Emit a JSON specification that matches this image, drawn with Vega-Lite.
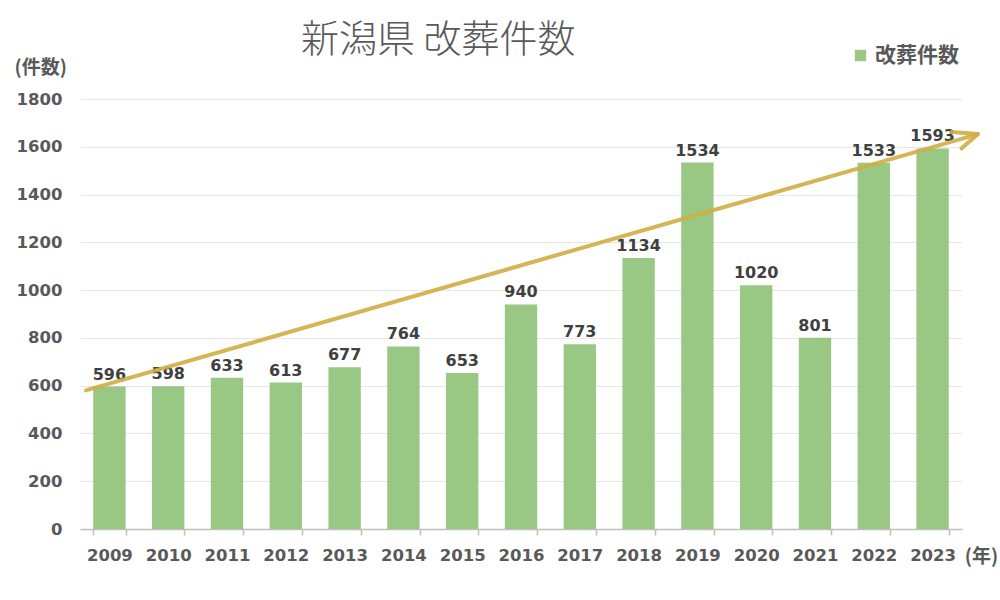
{
  "$schema": "https://vega.github.io/schema/vega-lite/v6.json",
  "autosize": "none",
  "width": 882,
  "height": 430,
  "padding": {"left": 80, "top": 99, "right": 38, "bottom": 71},
  "background": "#ffffff",
  "config": {
    "font": "Noto Sans CJK JP",
    "view": {"stroke": null}
  },
  "title": {
    "text": "新潟県 改葬件数",
    "anchor": "start",
    "dx": 287,
    "dy": 15,
    "offset": 0,
    "fontSize": 38,
    "fontWeight": 300,
    "color": "#595959",
    "font": "Noto Sans CJK JP"
  },
  "datasets": {
    "bars": [
      {"year": "2009", "count": 596, "series": "改葬件数"},
      {"year": "2010", "count": 598, "series": "改葬件数"},
      {"year": "2011", "count": 633, "series": "改葬件数"},
      {"year": "2012", "count": 613, "series": "改葬件数"},
      {"year": "2013", "count": 677, "series": "改葬件数"},
      {"year": "2014", "count": 764, "series": "改葬件数"},
      {"year": "2015", "count": 653, "series": "改葬件数"},
      {"year": "2016", "count": 940, "series": "改葬件数"},
      {"year": "2017", "count": 773, "series": "改葬件数"},
      {"year": "2018", "count": 1134, "series": "改葬件数"},
      {"year": "2019", "count": 1534, "series": "改葬件数"},
      {"year": "2020", "count": 1020, "series": "改葬件数"},
      {"year": "2021", "count": 801, "series": "改葬件数"},
      {"year": "2022", "count": 1533, "series": "改葬件数"},
      {"year": "2023", "count": 1593, "series": "改葬件数"}
    ],
    "arrow": [
      {"seg": "shaft", "order": 0, "px": 0.1, "py": 580},
      {"seg": "shaft", "order": 1, "px": 15.27, "py": 1653},
      {"seg": "head", "order": 0, "px": 14.82, "py": 1662},
      {"seg": "head", "order": 1, "px": 15.27, "py": 1653},
      {"seg": "head", "order": 2, "px": 14.99, "py": 1593}
    ]
  },
  "layer": [
    {
      "data": {"name": "bars"},
      "encoding": {
        "x": {
          "field": "year",
          "type": "ordinal",
          "scale": {"paddingInner": 0.45, "paddingOuter": 0.225},
          "axis": {
            "title": "(年)",
            "titleAngle": 0,
            "titleX": 901,
            "titleY": 18,
            "titleFontSize": 19,
            "titleFontWeight": "bold",
            "titleColor": "#595959",
            "titleAlign": "center",
            "labelAngle": 0,
            "labelFontSize": 16.5,
            "labelFontWeight": "bold",
            "labelColor": "#595959",
            "labelPadding": 12,
            "labelFont": "DejaVu Sans",
            "domainColor": "#bfbfbf",
            "domainWidth": 1.5,
            "tickColor": "#bfbfbf",
            "tickWidth": 1.5,
            "tickSize": 6,
            "tickBand": "extent",
            "grid": false
          }
        },
        "y": {
          "field": "count",
          "type": "quantitative",
          "scale": {"domain": [0, 1800], "nice": false},
          "axis": {
            "values": [0, 200, 400, 600, 800, 1000, 1200, 1400, 1600, 1800],
            "format": "d",
            "title": "(件数)",
            "titleAngle": 0,
            "titleX": -66,
            "titleY": -22,
            "titleAlign": "left",
            "titleFontSize": 19,
            "titleFontWeight": "bold",
            "titleColor": "#595959",
            "labelFontSize": 16.5,
            "labelFontWeight": "bold",
            "labelColor": "#595959",
            "labelFont": "DejaVu Sans",
            "labelPadding": 18,
            "ticks": false,
            "domain": false,
            "grid": true,
            "gridColor": "#e6e6e6",
            "gridWidth": 1
          }
        }
      },
      "layer": [
        {
          "mark": {"type": "bar", "opacity": 0.95},
          "encoding": {
            "color": {
              "field": "series",
              "type": "nominal",
              "scale": {"range": ["#93C47D"]},
              "legend": {
                "title": null,
                "orient": "none",
                "legendX": 770,
                "legendY": -54,
                "symbolType": "square",
                "symbolSize": 130,
                "symbolOpacity": 0.95,
                "labelFontSize": 21,
                "labelFontWeight": "bold",
                "labelColor": "#595959",
                "labelFont": "Noto Sans CJK JP"
              }
            }
          }
        },
        {
          "mark": {
            "type": "text",
            "baseline": "bottom",
            "dy": -4,
            "fontSize": 16,
            "fontWeight": "bold",
            "color": "#404040",
            "font": "DejaVu Sans"
          },
          "encoding": {
            "text": {"field": "count", "type": "quantitative"}
          }
        }
      ]
    },
    {
      "data": {"name": "arrow"},
      "mark": {
        "type": "line",
        "color": "#CFAE45",
        "strokeWidth": 4,
        "opacity": 0.9,
        "clip": false,
        "strokeCap": "round",
        "strokeJoin": "round"
      },
      "encoding": {
        "x": {
          "field": "px",
          "type": "quantitative",
          "scale": {"domain": [0, 15], "nice": false, "zero": false},
          "axis": null
        },
        "y": {"field": "py", "type": "quantitative"},
        "detail": {"field": "seg", "type": "nominal"},
        "order": {"field": "order", "type": "quantitative"}
      }
    }
  ],
  "resolve": {"scale": {"x": "independent"}}
}
